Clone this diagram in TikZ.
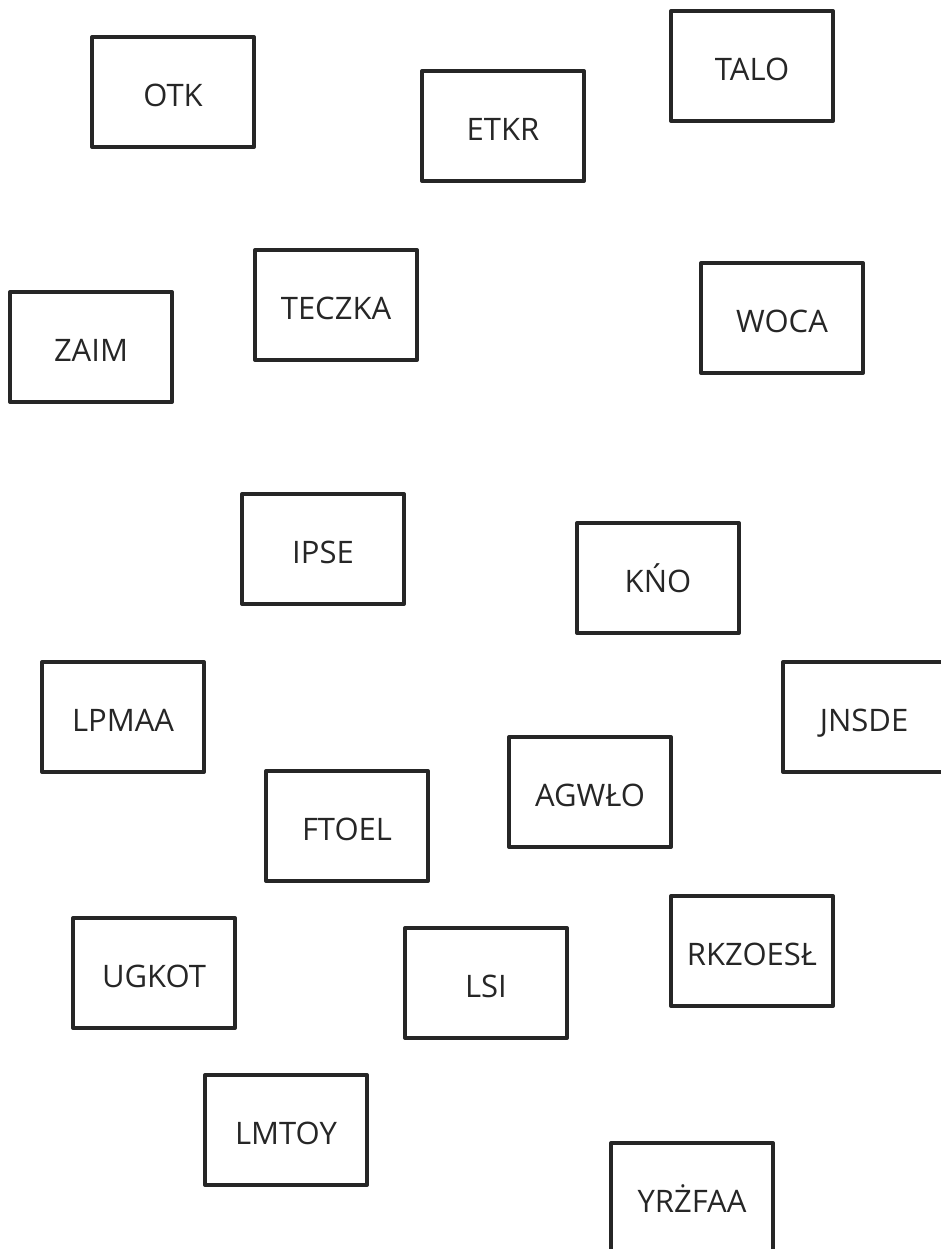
\documentclass[tikz,border=0pt]{standalone}
\usepackage{fontspec}
\setmainfont{Open Sans}
\begin{document}
\begin{tikzpicture}[x=1pt,y=-1pt,
  card/.style={draw=black!85,line width=4pt,line join=round,minimum width=162pt,minimum height=110pt,
    inner sep=0pt,text height=29pt,text depth=0pt,font=\fontsize{31}{31}\selectfont,text=black!85}]
\useasboundingbox (0,0) rectangle (941,1249);
\node[card] (otk) at (173,92) {OTK};
\node[card] (etkr) at (503,126) {ETKR};
\node[card] (talo) at (752,66) {TALO};
\node[card] (teczka) at (336,305) {TECZKA};
\node[card] (zaim) at (91,347) {ZAIM};
\node[card] (woca) at (782,318) {WOCA};
\node[card] (ipse) at (323,549) {IPSE};
\node[card] (kno) at (658,578) {KŃO};
\node[card] (lpmaa) at (123,717) {LPMAA};
\node[card] (jnsde) at (864,717) {JNSDE};
\node[card] (agwlo) at (590,792) {AGWŁO};
\node[card] (ftoel) at (347,826) {FTOEL};
\node[card] (ugkot) at (154,973) {UGKOT};
\node[card] (lsi) at (486,983) {LSI};
\node[card] (rkzoesl) at (752,951) {RKZOESŁ};
\node[card] (lmtoy) at (286,1130) {LMTOY};
\node[card] (yrzfaa) at (692,1198) {YRŻFAA};
\end{tikzpicture}
\end{document}
